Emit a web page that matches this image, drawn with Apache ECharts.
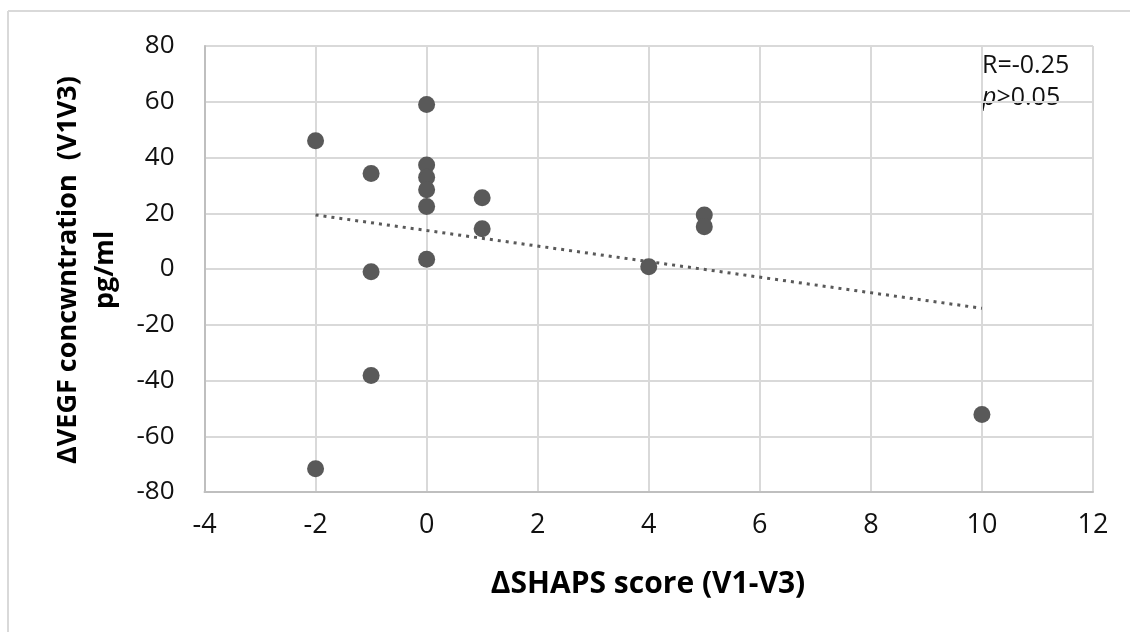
<!DOCTYPE html>
<html>
<head>
<meta charset="utf-8">
<script src="https://cdn.jsdelivr.net/npm/echarts@6/dist/echarts.min.js"></script>
<style>
  html, body { margin: 0; padding: 0; background: #fff; }
  #chart { width: 1130px; height: 632px; }
</style>
</head>
<body>
<div id="chart"></div>
<script>
// ΔSHAPS score (V1-V3) vs ΔVEGF concentration
const shapsDelta = [-2, -2, -1, -1, -1, 0, 0, 0, 0, 0, 0, 1, 1, 4, 5, 5, 10]
const vegfDelta = [46, -71.7, 34.3, -1.0, -38.2, 59, 37.3, 32.9, 28.4, 22.4, 3.5, 25.6, 14.4, 0.8, 19.4, 15.2, -52.2]

// linear trend line as drawn (end points)
const trendX = [-2, 10]
const trendY = [19.4, -14.1]

const xTicks = { min: -4, max: 12, step: 2 }
const yTicks = { min: -80, max: 80, step: 20 }

const annotationLines = ['R=-0.25', 'p>0.05']

const points = shapsDelta.map((x, i) => [x, vegfDelta[i]])
const trend = trendX.map((x, i) => [x, trendY[i]])

const chart = echarts.init(document.getElementById('chart'))
chart.setOption({
  animation: false,
  grid: { left: 204.5, right: 37, top: 46, bottom: 140 },
  xAxis: {
    type: 'value',
    min: xTicks.min,
    max: xTicks.max,
    interval: xTicks.step,
    axisLine: { onZero: false, lineStyle: { color: '#bfbfbf', width: 2 } },
    axisTick: { show: false },
    axisLabel: {
      show: true,
      textStyle: { color: '#111', fontSize: 27, fontFamily: 'Open Sans' },
      color: '#111',
      fontSize: 27,
      fontFamily: 'Open Sans',
      margin: 20,
    },
    splitLine: { lineStyle: { color: '#d9d9d9', width: 2 } },
  },
  yAxis: {
    type: 'value',
    min: yTicks.min,
    max: yTicks.max,
    interval: yTicks.step,
    axisLine: { show: true, onZero: false, lineStyle: { color: '#bfbfbf', width: 2 } },
    axisTick: { show: false },
    axisLabel: {
      show: true,
      textStyle: { color: '#111', fontSize: 26, fontFamily: 'Open Sans' },
      color: '#111',
      fontSize: 26,
      fontFamily: 'Open Sans',
      margin: 30,
    },
    splitLine: { lineStyle: { color: '#d9d9d9', width: 2 } },
  },
  series: [
    {
      type: 'scatter',
      data: points,
      symbol: 'circle',
      symbolSize: 17,
      itemStyle: { color: '#595959', opacity: 1 },
      z: 3,
    },
    {
      type: 'line',
      data: trend,
      showSymbol: false,
      symbol: 'none',
      lineStyle: { color: '#595959', width: 3, type: [3, 5] },
      z: 2,
    },
  ],
  graphic: [
    // outer frame (top and left edges only visible)
    { type: 'line', shape: { x1: 8, y1: 11, x2: 1130, y2: 11 }, style: { stroke: '#d9d9d9', lineWidth: 2 } },
    { type: 'line', shape: { x1: 8, y1: 11, x2: 8, y2: 632 }, style: { stroke: '#d9d9d9', lineWidth: 2 } },
    {
      type: 'text',
      x: 87,
      y: 270,
      rotation: Math.PI / 2,
      style: {
        text: 'ΔVEGF concwntration  (V1V3)\npg/ml',
        fontFamily: 'Open Sans',
        fontWeight: 'bold',
        fontSize: 27,
        fill: '#000',
        align: 'center',
        verticalAlign: 'middle',
        lineHeight: 37,
      },
    },
    {
      type: 'text',
      x: 648,
      y: 584,
      style: {
        text: 'ΔSHAPS score (V1-V3)',
        fontFamily: 'Open Sans',
        fontWeight: 'bold',
        fontSize: 30,
        fill: '#000',
        align: 'center',
        verticalAlign: 'middle',
      },
    },
    {
      type: 'text',
      x: 982,
      y: 50,
      style: {
        text: '{n|' + annotationLines[0] + '}\n{i|p}{n|' + annotationLines[1].slice(1) + '}',
        fontFamily: 'Open Sans',
        fontSize: 25,
        fill: '#111',
        lineHeight: 32,
        rich: {
          i: { fontStyle: 'italic', fontSize: 25, fontFamily: 'Open Sans', fill: '#111', lineHeight: 32 },
          n: { fontSize: 25, fontFamily: 'Open Sans', fill: '#111', lineHeight: 32 },
        },
      },
    },
  ],
})

window.addEventListener('resize', () => chart.resize())
</script>
</body>
</html>
